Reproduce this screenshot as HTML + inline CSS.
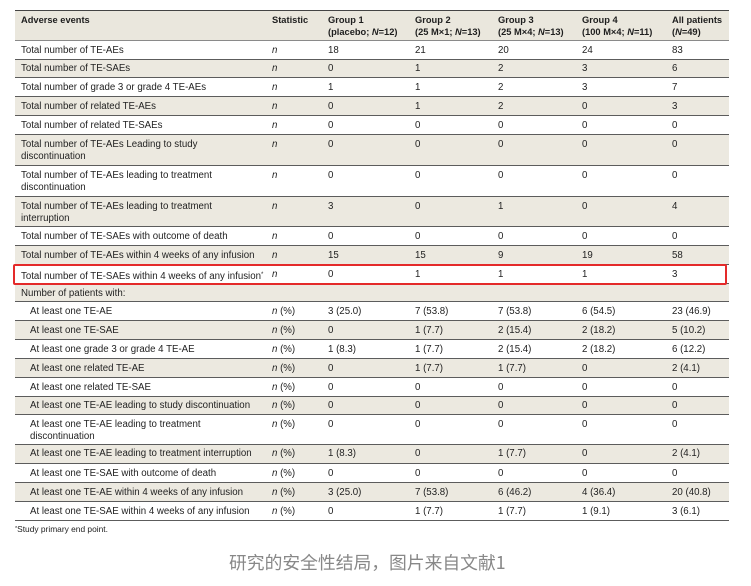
<!DOCTYPE html>
<html><head><meta charset="utf-8"><style>
html,body{margin:0;padding:0;background:#fff}
body{width:751px;height:586px;position:relative;overflow:hidden;font-family:"Liberation Sans","Noto Sans CJK SC",sans-serif;color:#222}
.r{position:absolute;left:15px;width:714px;box-sizing:border-box;border-bottom:1px solid #5c5c5c;font-size:9.7px}
.s{background:#ECE9E0}
.r span{position:absolute;top:3.5px;line-height:12px;white-space:nowrap}
.h{position:absolute;left:15px;top:10px;width:714px;height:31px;box-sizing:border-box;background:#EAE7DD;border-top:1px solid #444;border-bottom:1px solid #8a8a8a;font-size:9.3px;font-weight:bold;color:#1e1e1e}
.h span{position:absolute;top:3px;line-height:12px;white-space:nowrap}
.c0{left:6px}.ci{left:15px}.c1{left:257px}.c2{left:313px}.c3{left:400px}.c4{left:483px}.c5{left:567px}.c6{left:657px}
i{font-style:italic}
.red{position:absolute;left:13px;top:264px;width:714px;height:21px;box-sizing:border-box;border:2px solid #E42A2A;border-radius:2px}
.fn{position:absolute;left:15px;top:524px;font-size:8.4px;line-height:11px;color:#222;white-space:nowrap}
.cap{position:absolute;left:229px;top:551px;font-family:"Noto Sans CJK SC","WenQuanYi Zen Hei",sans-serif;font-size:17.8px;line-height:22px;color:#888;white-space:nowrap}
</style></head><body>

<div class="h">
<span class="c0">Adverse events</span>
<span class="c1">Statistic</span>
<span class="c2">Group 1<br>(placebo; <i>N</i>=12)</span>
<span class="c3">Group 2<br>(25 M×1; <i>N</i>=13)</span>
<span class="c4">Group 3<br>(25 M×4; <i>N</i>=13)</span>
<span class="c5">Group 4<br>(100 M×4; <i>N</i>=11)</span>
<span class="c6">All patients<br>(<i>N</i>=49)</span>
</div>

<div class="r" style="top:41px;height:18.5px"><span class="c0">Total number of TE-AEs</span><span class="c1"><i>n</i></span><span class="c2">18</span><span class="c3">21</span><span class="c4">20</span><span class="c5">24</span><span class="c6">83</span></div>
<div class="r s" style="top:59.5px;height:18.5px"><span class="c0">Total number of TE-SAEs</span><span class="c1"><i>n</i></span><span class="c2">0</span><span class="c3">1</span><span class="c4">2</span><span class="c5">3</span><span class="c6">6</span></div>
<div class="r" style="top:78px;height:19px"><span class="c0">Total number of grade 3 or grade 4 TE-AEs</span><span class="c1"><i>n</i></span><span class="c2">1</span><span class="c3">1</span><span class="c4">2</span><span class="c5">3</span><span class="c6">7</span></div>
<div class="r s" style="top:97px;height:19px"><span class="c0">Total number of related TE-AEs</span><span class="c1"><i>n</i></span><span class="c2">0</span><span class="c3">1</span><span class="c4">2</span><span class="c5">0</span><span class="c6">3</span></div>
<div class="r" style="top:116px;height:19px"><span class="c0">Total number of related TE-SAEs</span><span class="c1"><i>n</i></span><span class="c2">0</span><span class="c3">0</span><span class="c4">0</span><span class="c5">0</span><span class="c6">0</span></div>
<div class="r s" style="top:135px;height:31px"><span class="c0">Total number of TE-AEs Leading to study<br>discontinuation</span><span class="c1"><i>n</i></span><span class="c2">0</span><span class="c3">0</span><span class="c4">0</span><span class="c5">0</span><span class="c6">0</span></div>
<div class="r" style="top:166px;height:31px"><span class="c0">Total number of TE-AEs leading to treatment<br>discontinuation</span><span class="c1"><i>n</i></span><span class="c2">0</span><span class="c3">0</span><span class="c4">0</span><span class="c5">0</span><span class="c6">0</span></div>
<div class="r s" style="top:197px;height:30px"><span class="c0">Total number of TE-AEs leading to treatment<br>interruption</span><span class="c1"><i>n</i></span><span class="c2">3</span><span class="c3">0</span><span class="c4">1</span><span class="c5">0</span><span class="c6">4</span></div>
<div class="r" style="top:227px;height:19px"><span class="c0">Total number of TE-SAEs with outcome of death</span><span class="c1"><i>n</i></span><span class="c2">0</span><span class="c3">0</span><span class="c4">0</span><span class="c5">0</span><span class="c6">0</span></div>
<div class="r s" style="top:246px;height:19px"><span class="c0">Total number of TE-AEs within 4 weeks of any infusion</span><span class="c1"><i>n</i></span><span class="c2">15</span><span class="c3">15</span><span class="c4">9</span><span class="c5">19</span><span class="c6">58</span></div>
<div class="r" style="top:265px;height:19px"><span class="c0">Total number of TE-SAEs within 4 weeks of any infusion<sup style="font-size:6px;vertical-align:3px">*</sup></span><span class="c1"><i>n</i></span><span class="c2">0</span><span class="c3">1</span><span class="c4">1</span><span class="c5">1</span><span class="c6">3</span></div>
<div class="r s" style="top:284px;height:18px"><span class="c0">Number of patients with:</span></div>
<div class="r" style="top:302px;height:19px"><span class="ci">At least one TE-AE</span><span class="c1"><i>n</i> (%)</span><span class="c2">3 (25.0)</span><span class="c3">7 (53.8)</span><span class="c4">7 (53.8)</span><span class="c5">6 (54.5)</span><span class="c6">23 (46.9)</span></div>
<div class="r s" style="top:321px;height:19px"><span class="ci">At least one TE-SAE</span><span class="c1"><i>n</i> (%)</span><span class="c2">0</span><span class="c3">1 (7.7)</span><span class="c4">2 (15.4)</span><span class="c5">2 (18.2)</span><span class="c6">5 (10.2)</span></div>
<div class="r" style="top:340px;height:19px"><span class="ci">At least one grade 3 or grade 4 TE-AE</span><span class="c1"><i>n</i> (%)</span><span class="c2">1 (8.3)</span><span class="c3">1 (7.7)</span><span class="c4">2 (15.4)</span><span class="c5">2 (18.2)</span><span class="c6">6 (12.2)</span></div>
<div class="r s" style="top:359px;height:19px"><span class="ci">At least one related TE-AE</span><span class="c1"><i>n</i> (%)</span><span class="c2">0</span><span class="c3">1 (7.7)</span><span class="c4">1 (7.7)</span><span class="c5">0</span><span class="c6">2 (4.1)</span></div>
<div class="r" style="top:378px;height:18.5px"><span class="ci">At least one related TE-SAE</span><span class="c1"><i>n</i> (%)</span><span class="c2">0</span><span class="c3">0</span><span class="c4">0</span><span class="c5">0</span><span class="c6">0</span></div>
<div class="r s" style="top:396.5px;height:18.5px"><span class="ci">At least one TE-AE leading to study discontinuation</span><span class="c1"><i>n</i> (%)</span><span class="c2">0</span><span class="c3">0</span><span class="c4">0</span><span class="c5">0</span><span class="c6">0</span></div>
<div class="r" style="top:415px;height:29.5px"><span class="ci">At least one TE-AE leading to treatment<br>discontinuation</span><span class="c1"><i>n</i> (%)</span><span class="c2">0</span><span class="c3">0</span><span class="c4">0</span><span class="c5">0</span><span class="c6">0</span></div>
<div class="r s" style="top:444.5px;height:19.5px"><span class="ci">At least one TE-AE leading to treatment interruption</span><span class="c1"><i>n</i> (%)</span><span class="c2">1 (8.3)</span><span class="c3">0</span><span class="c4">1 (7.7)</span><span class="c5">0</span><span class="c6">2 (4.1)</span></div>
<div class="r" style="top:464px;height:19px"><span class="ci">At least one TE-SAE with outcome of death</span><span class="c1"><i>n</i> (%)</span><span class="c2">0</span><span class="c3">0</span><span class="c4">0</span><span class="c5">0</span><span class="c6">0</span></div>
<div class="r s" style="top:483px;height:19px"><span class="ci">At least one TE-AE within 4 weeks of any infusion</span><span class="c1"><i>n</i> (%)</span><span class="c2">3 (25.0)</span><span class="c3">7 (53.8)</span><span class="c4">6 (46.2)</span><span class="c5">4 (36.4)</span><span class="c6">20 (40.8)</span></div>
<div class="r" style="top:502px;height:19px"><span class="ci">At least one TE-SAE within 4 weeks of any infusion</span><span class="c1"><i>n</i> (%)</span><span class="c2">0</span><span class="c3">1 (7.7)</span><span class="c4">1 (7.7)</span><span class="c5">1 (9.1)</span><span class="c6">3 (6.1)</span></div>

<div class="red"></div>

<div class="fn"><sup style="font-size:5.5px;vertical-align:2px">*</sup>Study primary end point.</div>

<div class="cap">研究的安全性结局，图片来自文献1</div>

</body></html>
